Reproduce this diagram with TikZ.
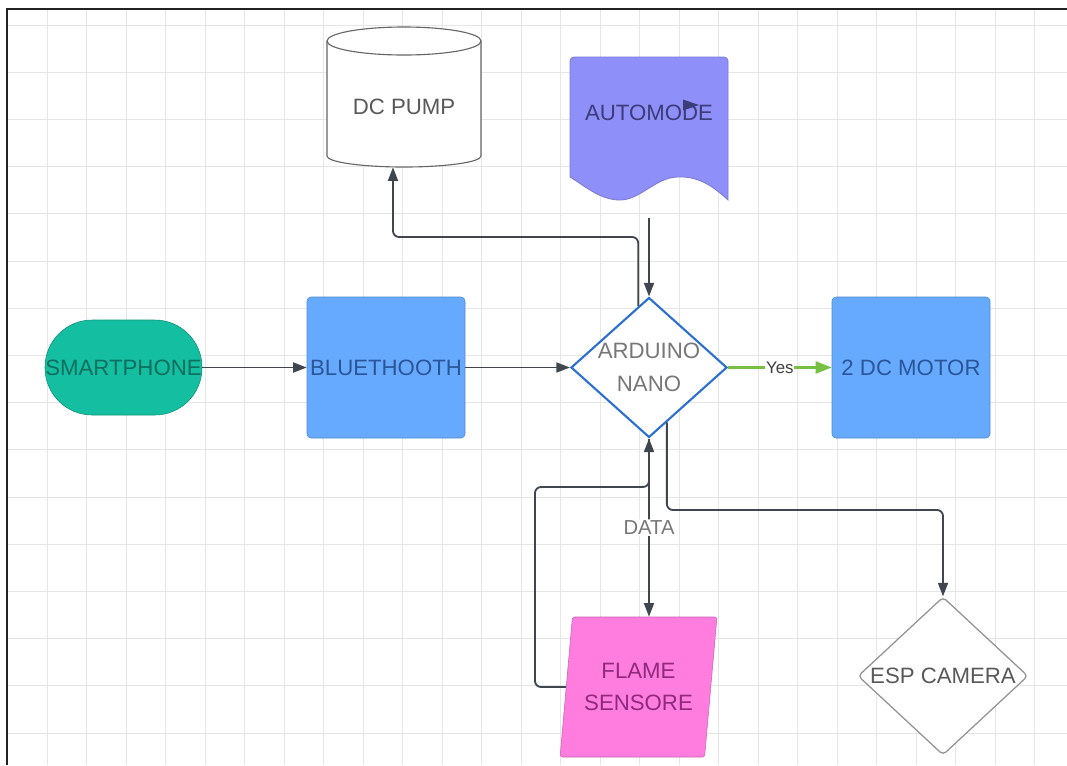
\documentclass[tikz,border=0pt]{standalone}
\usepackage{fontspec}
\setmainfont{Liberation Sans}
\usetikzlibrary{shapes.geometric,arrows.meta}
\definecolor{gridgray}{HTML}{E6E6E6}
\definecolor{framegray}{HTML}{222222}
\definecolor{linegray}{HTML}{3F4650}
\definecolor{yesgreen}{HTML}{76C043}
\definecolor{phonefill}{HTML}{14BFA1}
\definecolor{phonetext}{HTML}{0F6E60}
\definecolor{bluefill}{HTML}{66AAFF}
\definecolor{bluetext}{HTML}{2B5597}
\definecolor{autofill}{HTML}{8F8FFA}
\definecolor{autotext}{HTML}{3C3C78}
\definecolor{flamefill}{HTML}{FF7DDE}
\definecolor{flametext}{HTML}{8E2A7E}
\definecolor{ardblue}{HTML}{2B70D0}
\definecolor{softgray}{HTML}{777777}
\begin{document}
\begin{tikzpicture}[scale=0.25]
	\tikzstyle{every node}+=[inner sep=0pt, font=\fontsize{15.8}{23}\selectfont]
	\tikzstyle{conn}=[draw=linegray, line width=1.3pt, rounded corners=1.5mm, -{Triangle[length=3.4mm,width=2.5mm]}]
	\tikzstyle{yesconn}=[draw=yesgreen, line width=1.6pt, -{Triangle[length=4mm,width=3mm]}]
	\tikzstyle{bluebox}=[rectangle, rounded corners=1mm, fill=bluefill, draw=bluefill!80!black, minimum width=3.95cm, minimum height=3.525cm, text=bluetext]
	\tikzstyle{phonebox}=[rectangle, rounded corners=1.18cm, fill=phonefill, draw=phonefill!75!black, minimum width=3.925cm, minimum height=2.375cm, text=phonetext]
	\tikzstyle{ardbox}=[diamond, aspect=1.115, fill=white, draw=ardblue, line width=1.5pt, minimum width=3.875cm, minimum height=3.475cm, align=center, text=softgray]
	\tikzstyle{espbox}=[diamond, aspect=1.08, rounded corners=1mm, fill=white, draw=gray!85, line width=0.9pt, minimum width=4.25cm, minimum height=3.95cm, text=black!65]
	\tikzstyle{flamebox}=[trapezium, trapezium left angle=78, trapezium right angle=102, trapezium stretches=true, rounded corners=0.6mm, fill=flamefill, draw=flamefill!80!black, minimum width=3.925cm, minimum height=3.5cm, align=center, text=flametext]
	\tikzstyle{datalabel}=[fill=white, inner sep=1pt, font=\fontsize{14.4}{16}\selectfont, text=softgray]
	\tikzstyle{yeslabel}=[fill=white, inner sep=0.5pt, font=\fontsize{12}{14}\selectfont, text=black!75]
	\useasboundingbox (0,0) rectangle (106.7,-76.5);
	% grid and frame
	\foreach \x in {0,...,25}
		\draw [gridgray, line width=0.6pt] ({4.7+3.95*\x},-0.9) -- ({4.7+3.95*\x},-76.5);
	\foreach \y in {0,...,15}
		\draw [gridgray, line width=0.6pt] (0.7,{-2.5-4.72*\y}) -- (106.7,{-2.5-4.72*\y});
	\draw [framegray, line width=1.2pt] (0.7,-76.5) -- (0.7,-0.9) -- (106.7,-0.9);
	% dc pump
	\filldraw [fill=white, draw=black!60, line width=0.8pt] (32.7,-4.1) -- (32.7,-15.6) arc [start angle=180, end angle=360, x radius=7.7, y radius=1.1] -- (48.1,-4.1);
	\filldraw [fill=white, draw=black!60, line width=0.8pt] (40.4,-4.1) ellipse [x radius=7.7, y radius=1.4];
	\node [minimum width=3.85cm, minimum height=3.5cm, label={[text=black!65, yshift=-2.5mm]center:DC PUMP}] (pump) at (40.4,-9.7) {};
	% automode
	\filldraw [fill=autofill, draw=autofill!85!black, line width=0.6pt] (57.0,-17.7) [rounded corners=1mm] -- (57.0,-5.7) -- (72.8,-5.7) [sharp corners] -- (72.8,-20.0)
		.. controls (71.0,-18.3) and (69.5,-17.6) .. (67.7,-17.7)
		.. controls (65.5,-17.8) and (64.0,-20.0) .. (62.0,-20.0)
		.. controls (60.0,-20.0) and (58.5,-18.6) .. (57.0,-17.7) -- cycle;
	\node [minimum width=3.95cm, minimum height=3.575cm, label={[text=autotext, yshift=3.9mm]center:AUTOMODE}] (auto) at (64.9,-12.85) {};
	\fill [autotext] (68.3,-9.95) -- (69.9,-10.5) -- (68.3,-11.05) -- cycle;
	% blocks
	\node [phonebox] (phone) at (12.35,-36.75) {SMARTPHONE};
	\node [bluebox] (blue) at (38.6,-36.75) {BLUETHOOTH};
	\node [ardbox] (ard) at (64.9,-36.75) {ARDUINO\\NANO};
	\node [bluebox] (motor) at (91.1,-36.75) {2 DC MOTOR};
	\node [flamebox] (flame) at (63.85,-68.7) {FLAME\\SENSORE};
	\node [espbox] (esp) at (94.3,-67.6) {ESP CAMERA};
	\coordinate (pumpturn) at (39.3,-23.7);
	\coordinate (loopturn) at (53.5,-48.7);
	\coordinate (espturn) at (94.3,-51.0);
	% connectors
	\draw [conn] (phone.east) -- (blue.west);
	\draw [conn] (blue.east) -- (ard.west);
	\draw [yesconn] (ard.east) -- (motor.west) node [midway, yeslabel] {Yes};
	\draw [conn, shorten <=4.5mm] (auto.south) -- (ard.north);
	\draw [conn] (ard.100) |- (pumpturn) -- (pumpturn |- pump.south);
	\draw [conn] (ard.south) -- (ard.south |- flame.north) node [midway, datalabel] {DATA};
	\draw [conn] (flame.west) -| (loopturn) -| (ard.south);
	\draw [conn] (ard.-72) |- (espturn) -- (esp.north);
\end{tikzpicture}
\end{document}
